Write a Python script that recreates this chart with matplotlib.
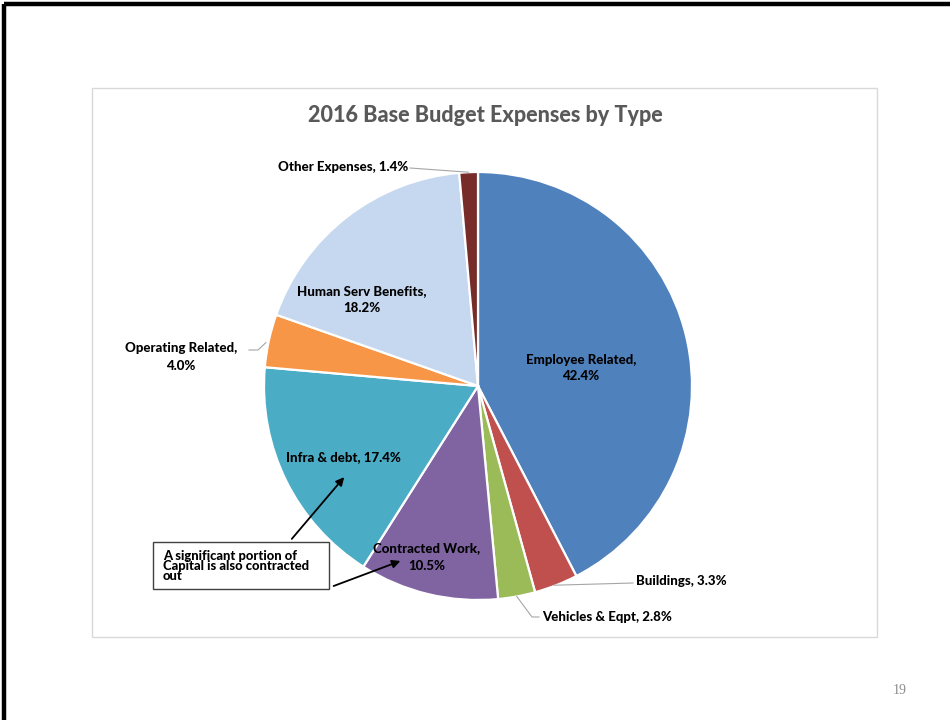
import numpy as np
import matplotlib
matplotlib.use("Agg")
import matplotlib.pyplot as plt
from matplotlib.patches import Rectangle

plt.rcParams['font.family'] = ['Lato', 'DejaVu Sans']

categories = ["Employee Related", "Buildings", "Vehicles & Eqpt", "Contracted Work",
              "Infra & debt", "Operating Related", "Human Serv Benefits", "Other Expenses"]
shares = [42.4, 3.3, 2.8, 10.5, 17.4, 4.0, 18.2, 1.4]
colors = ["#4F81BD", "#C0504D", "#9BBB59", "#8064A2",
          "#4BACC6", "#F79646", "#C6D8F0", "#772C2A"]

W, H = 950, 720
fig = plt.figure(figsize=(W / 100, H / 100), dpi=100)
ax = fig.add_axes([0, 0, 1, 1])


def py(y):
    # pixel row (top-down) -> data y
    return H - y


cx, cy, R = 478, py(386), 214
wedges, _ = ax.pie(shares, colors=colors, startangle=90, counterclock=False,
                   center=(cx, cy), radius=R, frame=True,
                   wedgeprops=dict(edgecolor="white", linewidth=1.6))
ax.set_xlim(0, W)
ax.set_ylim(0, H)
ax.set_aspect("equal")
ax.axis("off")

# slide border (top + left) and chart-area frame
ax.plot([4, W], [py(4), py(4)], color="black", lw=3.2, solid_capstyle="butt")
ax.plot([4, 4], [py(4), 0], color="black", lw=3.2, solid_capstyle="butt")
ax.add_patch(Rectangle((92, py(637)), 785, 549, fill=False, ec="#D9D9D9", lw=1.0))

ax.text(485, py(115), "2016 Base Budget Expenses by Type", ha="center", va="center",
        fontsize=15.5, fontweight=900, color="#595959")


def edge_point(i, frac=1.0):
    w = wedges[i]
    mid = np.deg2rad((w.theta1 + w.theta2) / 2)
    return cx + R * frac * np.cos(mid), cy + R * frac * np.sin(mid)


lab = dict(fontsize=9.5, fontweight=900, color="black", linespacing=1.5)
pct = [f"{s:.1f}%" for s in shares]

# inside labels
ax.text(581, py(368), f"{categories[0]},\n{pct[0]}", ha="center", va="center", **lab)
ax.text(362, py(300), f"{categories[6]},\n{pct[6]}", ha="center", va="center", **lab)
ax.text(343, py(457), f"{categories[4]}, {pct[4]}", ha="center", va="center", **lab)
ax.text(427, py(557), f"{categories[3]},\n{pct[3]}", ha="center", va="center", **lab)

# outside labels with leader lines
lead = dict(color="#A6A6A6", lw=0.8)
x0, y0 = edge_point(1)
ax.plot([x0 - 2, 633], [y0, py(583)], **lead)
ax.text(636, py(581), f"{categories[1]}, {pct[1]}", ha="left", va="center", **lab)

x0, y0 = edge_point(2)
ax.plot([x0, 532, 539], [y0, py(617), py(617)], **lead)
ax.text(542, py(617), f"{categories[2]}, {pct[2]}", ha="left", va="center", **lab)

x0, y0 = edge_point(5)
ax.plot([x0 - 3, 258, 249], [y0 - 2, py(350), py(350)], **lead)
ax.text(181, py(357), f"{categories[5]},\n{pct[5]}", ha="center", va="center", **lab)

x0, y0 = edge_point(7)
ax.plot([410, x0], [py(168), y0], **lead)
ax.text(408, py(167), f"{categories[7]}, {pct[7]}", ha="right", va="center", **lab)

# call-out box
ax.add_patch(Rectangle((153, py(589)), 176, 47, fc="white", ec="#404040", lw=1.0, zorder=5))
ax.text(163, py(566.5), "A significant portion of\nCapital is also contracted\nout", ha="left",
        va="center", fontsize=9.4, fontweight=900, linespacing=0.8, zorder=6)
arrow = dict(arrowstyle="-|>", color="black", lw=1.3, mutation_scale=12)
ax.annotate("", xy=(346, py(475)), xytext=(290, py(541)), arrowprops=arrow)
ax.annotate("", xy=(403, py(560)), xytext=(331, py(587)), arrowprops=arrow)

ax.text(900, py(690), "19", ha="center", va="center", fontsize=10,
        family="Liberation Serif", color="#8C8C8C")

fig.savefig("out.png", dpi=100)
